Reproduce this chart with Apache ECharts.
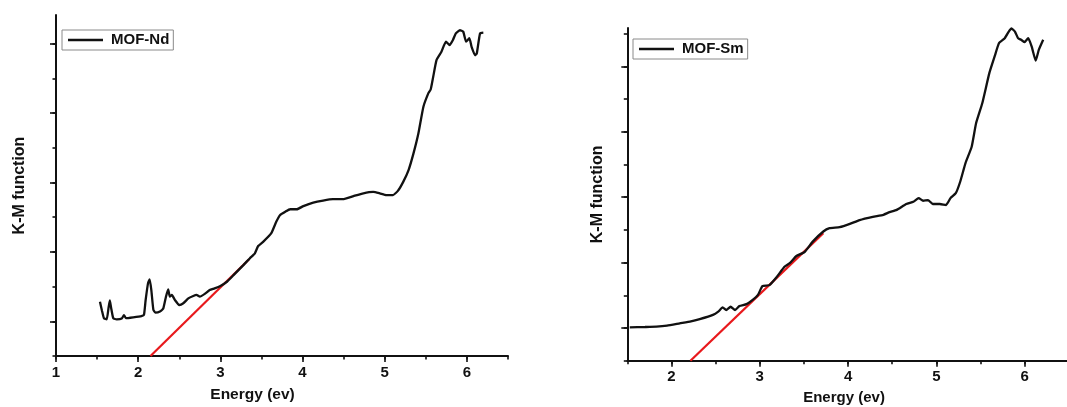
<!DOCTYPE html>
<html>
<head>
<meta charset="utf-8">
<script src="https://cdn.jsdelivr.net/npm/echarts@6/dist/echarts.min.js"></script>
<style>
html,body{margin:0;padding:0;background:#fff;}
#chart{width:1067px;height:407px;}
</style>
</head>
<body>
<div id="chart"></div>
<script>
// ---- Data: MOF-Nd (left panel) ----
const ndEnergy = [1.535,1.56,1.584,1.617,1.64,1.655,1.67,1.697,1.738,1.80,1.827,1.85,1.94,2.04,2.07,2.09,2.12,2.14,2.16,2.185,2.21,2.265,2.305,2.338,2.365,2.385,2.41,2.448,2.50,2.549,2.61,2.67,2.71,2.75,2.81,2.87,2.93,3.00,3.08,3.16,3.28,3.36,3.42,3.46,3.52,3.62,3.68,3.725,3.79,3.85,3.93,4.01,4.13,4.25,4.37,4.49,4.62,4.74,4.86,4.94,5.02,5.10,5.16,5.225,5.29,5.35,5.41,5.47,5.53,5.56,5.59,5.63,5.69,5.745,5.79,5.83,5.865,5.915,5.955,5.99,6.03,6.057,6.10,6.12,6.16,6.20];
const ndKM     = [1.565,1.30,1.086,1.057,1.40,1.60,1.40,1.086,1.057,1.08,1.18,1.09,1.115,1.15,1.18,1.60,2.10,2.21,1.90,1.33,1.25,1.28,1.37,1.71,1.92,1.71,1.76,1.61,1.47,1.52,1.66,1.73,1.76,1.71,1.79,1.90,1.95,2.02,2.14,2.33,2.62,2.82,2.96,3.17,3.29,3.54,3.87,4.06,4.16,4.23,4.23,4.32,4.42,4.48,4.52,4.52,4.61,4.69,4.73,4.69,4.64,4.64,4.76,5.02,5.36,5.84,6.42,7.18,7.57,7.69,8.05,8.53,8.77,9.06,8.96,9.11,9.30,9.39,9.35,9.06,9.16,8.91,8.67,8.72,9.30,9.32];
const ndFitEnergy = [2.15, 3.35];
const ndFitKM     = [0, 2.79];

// ---- Data: MOF-Sm (right panel) ----
const smEnergy = [1.528,1.70,1.83,1.95,2.094,2.22,2.32,2.47,2.53,2.58,2.62,2.67,2.72,2.77,2.85,2.92,2.98,3.03,3.11,3.19,3.28,3.34,3.415,3.51,3.60,3.72,3.79,3.905,4.02,4.13,4.28,4.40,4.47,4.55,4.66,4.74,4.80,4.85,4.905,4.96,5.04,5.11,5.16,5.22,5.27,5.33,5.40,5.45,5.52,5.60,5.66,5.71,5.775,5.82,5.85,5.89,5.925,5.96,6.00,6.04,6.08,6.125,6.16,6.21];
const smKM     = [1.02,1.03,1.04,1.07,1.14,1.20,1.27,1.40,1.50,1.63,1.55,1.65,1.55,1.67,1.73,1.86,2.01,2.28,2.31,2.55,2.87,2.98,3.20,3.33,3.64,3.95,4.05,4.08,4.18,4.30,4.40,4.46,4.54,4.61,4.79,4.86,4.97,4.89,4.91,4.79,4.79,4.76,4.97,5.12,5.47,6.04,6.54,7.26,7.87,8.79,9.30,9.71,9.86,10.06,10.16,10.06,9.86,9.81,9.74,9.86,9.60,9.17,9.50,9.81];
const smFitEnergy = [2.215, 3.72];
const smFitKM     = [0, 3.90];

// ---- Text ----
const xAxisTitle = 'Energy (ev)';
const yAxisTitle = 'K-M function';
const seriesNames = ['MOF-Nd', 'MOF-Sm'];

function pairs(xs, ys){ return xs.map((x,i)=>[x, ys[i]]); }

const FONT = '"Liberation Sans", Arial, sans-serif';
const INK = '#111';

const option = {
  animation: false,
  backgroundColor: '#fff',
  grid: [], xAxis: [], yAxis: [], series: [], legend: []
};

function addPanel(p){
  const px = x => p.left + (x - p.xMin) / (p.xMax - p.xMin) * p.width;
  const py = y => p.top + p.height - y / p.yMax * p.height;
  const base = option.grid.length;
  const hidden = {type:'value', show:false, min:0, max:1};
  const tickOnly = (len) => ({
    axisLine:{show:false}, axisLabel:{show:false}, splitLine:{show:false},
    axisTick:{show:true, length:len, inside:false, lineStyle:{color:INK, width:1.6}}
  });
  // grid 0: data
  option.grid.push({left:p.left, top:p.top, width:p.width, height:p.height, containLabel:false, outerBoundsMode:'none'});
  option.xAxis.push({
    type:'value', gridIndex:base, min:p.xMin, max:p.xMax, interval:0.5,
    axisLine:{show:true, onZero:false, lineStyle:{color:INK, width:2}},
    axisTick:{show:true, length:3.5, inside:false, lineStyle:{color:INK, width:1.6}},
    splitLine:{show:false},
    axisLabel:{show:true, margin:9, color:INK, fontFamily:FONT, fontWeight:'bold', fontSize:15,
      formatter: v => (Math.abs(v - Math.round(v)) < 1e-6 ? String(Math.round(v)) : '')},
    name:xAxisTitle, nameLocation:'middle', nameGap:p.xNameGap,
    nameTextStyle:{color:INK, fontFamily:FONT, fontWeight:'bold', fontSize:p.xNameSize, padding:[0,p.xNameShift,0,0]}
  });
  option.yAxis.push({
    type:'value', gridIndex:base, min:0, max:p.yMax,
    axisLine:{show:true, onZero:false, lineStyle:{color:INK, width:2}},
    axisTick:{show:false}, axisLabel:{show:false}, splitLine:{show:false},
    name:yAxisTitle, nameLocation:'middle', nameGap:p.yNameGap,
    nameTextStyle:{color:INK, fontFamily:FONT, fontWeight:'bold', fontSize:16}
  });
  // grid 1: major x ticks (integers)
  option.grid.push({left:px(p.xMajor[0]), width:px(p.xMajor[1]) - px(p.xMajor[0]), top:p.top, height:p.height, containLabel:false, outerBoundsMode:'none'});
  option.xAxis.push(Object.assign({type:'value', gridIndex:base+1, min:p.xMajor[0], max:p.xMajor[1], interval:1}, tickOnly(6)));
  option.yAxis.push(Object.assign({gridIndex:base+1}, hidden));
  // grid 2: minor y ticks
  option.grid.push({left:p.left, width:p.width, top:py(p.yMinorMax), height:py(0) - py(p.yMinorMax), containLabel:false, outerBoundsMode:'none'});
  option.xAxis.push(Object.assign({gridIndex:base+2}, hidden));
  option.yAxis.push(Object.assign({type:'value', gridIndex:base+2, min:0, max:p.yMinorMax, interval:1}, tickOnly(3.5)));
  // grid 3: major y ticks (odd units 1..9)
  option.grid.push({left:p.left, width:p.width, top:py(9), height:py(1) - py(9), containLabel:false, outerBoundsMode:'none'});
  option.xAxis.push(Object.assign({gridIndex:base+3}, hidden));
  option.yAxis.push(Object.assign({type:'value', gridIndex:base+3, min:0, max:8, interval:2}, tickOnly(6)));

  option.series.push({
    name:p.name, type:'line', xAxisIndex:base, yAxisIndex:base,
    data:pairs(p.xs, p.ys), symbol:'none', showSymbol:false, smooth:0.15, clip:false,
    lineStyle:{color:INK, width:2.3}, itemStyle:{color:INK}, z:3
  });
  option.series.push({
    name:p.name + ' fit', type:'line', xAxisIndex:base, yAxisIndex:base,
    data:pairs(p.fx, p.fy), symbol:'none', showSymbol:false,
    lineStyle:{color:'#e8191c', width:2.2}, itemStyle:{color:'#e8191c'}, z:2
  });
  option.legend.push({
    data:[{name:p.name, icon:'rect'}], left:p.legendLeft, top:p.legendTop, orient:'horizontal',
    backgroundColor:'#fff', borderColor:'#8a8a8a', borderWidth:1, borderRadius:0,
    padding:[2,4,2,6], itemWidth:35, itemHeight:2.4, itemGap:5,
    itemStyle:{color:INK, borderWidth:0},
    textStyle:{color:INK, fontFamily:FONT, fontWeight:'bold', fontSize:15, lineHeight:16, padding:[0,0,0,3]},
    selectedMode:false
  });
}

addPanel({
  name:seriesNames[0], xs:ndEnergy, ys:ndKM, fx:ndFitEnergy, fy:ndFitKM,
  left:56, top:15, width:452, height:341, xMin:1, xMax:6.5, yMax:9.83,
  xMajor:[1,6], yMinorMax:9,
  xNameGap:31, xNameSize:15.5, xNameShift:59, yNameGap:28,
  legendLeft:62, legendTop:30
});
addPanel({
  name:seriesNames[1], xs:smEnergy, ys:smKM, fx:smFitEnergy, fy:smFitKM,
  left:627.3, top:28, width:441.5, height:332.7, xMin:1.5, xMax:6.5, yMax:10.17,
  xMajor:[2,6], yMinorMax:10,
  xNameGap:30, xNameSize:15, xNameShift:8, yNameGap:22,
  legendLeft:633, legendTop:39
});

const chart = echarts.init(document.getElementById('chart'), null, {renderer:'canvas'});
chart.setOption(option);
</script>
</body>
</html>
